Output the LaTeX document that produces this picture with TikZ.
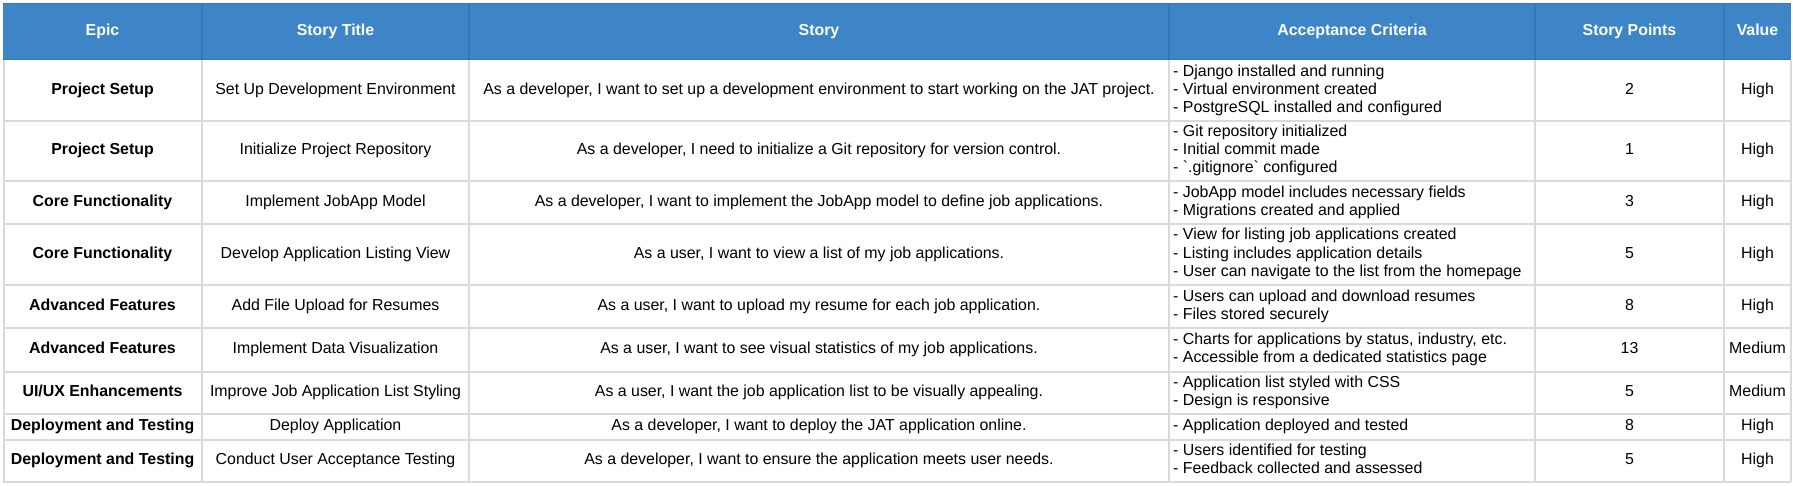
\documentclass[tikz,border=0pt]{standalone}
\usepackage{fontspec}
\setmainfont{Liberation Sans}
\newcommand\cellfnt{\fontsize{15.9}{18.2}\selectfont}
\definecolor{hdrblue}{RGB}{61,133,198}
\definecolor{hdrline}{RGB}{54,118,178}
\definecolor{gridgray}{RGB}{218,218,218}
\tikzset{
  cell/.style={inner sep=0pt, font=\cellfnt, text=black},
  epiccell/.style={cell, font=\cellfnt\bfseries},
  hdrcell/.style={inner sep=0pt, font=\cellfnt\bfseries, text=white},
  accell/.style={cell, anchor=west, align=left},
  gridline/.style={draw=gridgray, line width=1.3pt},
  hdrsep/.style={draw=hdrline, line width=1.1pt}
}
\begin{document}
\begin{tikzpicture}[x=1pt,y=-1pt]
\useasboundingbox (0,0) rectangle (1793,485);
\fill[white] (0,0) rectangle (1793,485);
% header background
\fill[hdrblue] (3,3) rectangle (1791,60);
% grid lines
\foreach \yy in {121,181,224,285,328,372,414,440,482}
  \draw[gridline] (3,\yy) -- (1791,\yy);
\foreach \xx in {4,202,469,1169,1535,1724,1791}
  \draw[gridline] (\xx,60) -- (\xx,482);
% header borders
\draw[hdrsep] (3,3.5) -- (1791,3.5);
\draw[hdrsep] (3,59.5) -- (1791,59.5);
\foreach \xx in {202,469,1169,1535,1724}
  \draw[hdrsep] (\xx,3) -- (\xx,60);

% header
\node[hdrcell] (hE) at (102.5,31.5) {\strut Epic};
\node[hdrcell] (hT) at (335.5,31.5) {\strut Story Title};
\node[hdrcell] (hS) at (819,31.5) {\strut Story};
\node[hdrcell] (hA) at (1352,31.5) {\strut Acceptance Criteria};
\node[hdrcell] (hP) at (1629.5,31.5) {\strut Story Points};
\node[hdrcell] (hV) at (1757.5,31.5) {\strut Value};

% row 1
\node[epiccell] (e1) at (102.5,91) {\strut Project Setup};
\node[cell] (t1) at (335.5,91) {\strut Set Up Development Environment};
\node[cell] (s1) at (819,91) {\strut As a developer, I want to set up a development environment to start working on the JAT project.};
\node[accell] (a1) at (1173,91) {\strut - Django installed and running\\\strut - Virtual environment created\\\strut - PostgreSQL installed and configured};
\node[cell] (p1) at (1629.5,91) {\strut 2};
\node[cell] (v1) at (1757.5,91) {\strut High};

% row 2
\node[epiccell] (e2) at (102.5,151) {\strut Project Setup};
\node[cell] (t2) at (335.5,151) {\strut Initialize Project Repository};
\node[cell] (s2) at (819,151) {\strut As a developer, I need to initialize a Git repository for version control.};
\node[accell] (a2) at (1173,151) {\strut - Git repository initialized\\\strut - Initial commit made\\\strut - \textasciigrave.gitignore\textasciigrave{} configured};
\node[cell] (p2) at (1629.5,151) {\strut 1};
\node[cell] (v2) at (1757.5,151) {\strut High};

% row 3
\node[epiccell] (e3) at (102.5,202.5) {\strut Core Functionality};
\node[cell] (t3) at (335.5,202.5) {\strut Implement JobApp Model};
\node[cell] (s3) at (819,202.5) {\strut As a developer, I want to implement the JobApp model to define job applications.};
\node[accell] (a3) at (1173,202.5) {\strut - JobApp model includes necessary fields\\\strut - Migrations created and applied};
\node[cell] (p3) at (1629.5,202.5) {\strut 3};
\node[cell] (v3) at (1757.5,202.5) {\strut High};

% row 4
\node[epiccell] (e4) at (102.5,254.5) {\strut Core Functionality};
\node[cell] (t4) at (335.5,254.5) {\strut Develop Application Listing View};
\node[cell] (s4) at (819,254.5) {\strut As a user, I want to view a list of my job applications.};
\node[accell] (a4) at (1173,254.5) {\strut - View for listing job applications created\\\strut - Listing includes application details\\\strut - User can navigate to the list from the homepage};
\node[cell] (p4) at (1629.5,254.5) {\strut 5};
\node[cell] (v4) at (1757.5,254.5) {\strut High};

% row 5
\node[epiccell] (e5) at (102.5,306.5) {\strut Advanced Features};
\node[cell] (t5) at (335.5,306.5) {\strut Add File Upload for Resumes};
\node[cell] (s5) at (819,306.5) {\strut As a user, I want to upload my resume for each job application.};
\node[accell] (a5) at (1173,306.5) {\strut - Users can upload and download resumes\\\strut - Files stored securely};
\node[cell] (p5) at (1629.5,306.5) {\strut 8};
\node[cell] (v5) at (1757.5,306.5) {\strut High};

% row 6
\node[epiccell] (e6) at (102.5,350) {\strut Advanced Features};
\node[cell] (t6) at (335.5,350) {\strut Implement Data Visualization};
\node[cell] (s6) at (819,350) {\strut As a user, I want to see visual statistics of my job applications.};
\node[accell] (a6) at (1173,350) {\strut - Charts for applications by status, industry, etc.\\\strut - Accessible from a dedicated statistics page};
\node[cell] (p6) at (1629.5,350) {\strut 13};
\node[cell] (v6) at (1757.5,350) {\strut Medium};

% row 7
\node[epiccell] (e7) at (102.5,393) {\strut UI/UX Enhancements};
\node[cell] (t7) at (335.5,393) {\strut Improve Job Application List Styling};
\node[cell] (s7) at (819,393) {\strut As a user, I want the job application list to be visually appealing.};
\node[accell] (a7) at (1173,393) {\strut - Application list styled with CSS\\\strut - Design is responsive};
\node[cell] (p7) at (1629.5,393) {\strut 5};
\node[cell] (v7) at (1757.5,393) {\strut Medium};

% row 8
\node[epiccell] (e8) at (102.5,427) {\strut Deployment and Testing};
\node[cell] (t8) at (335.5,427) {\strut Deploy Application};
\node[cell] (s8) at (819,427) {\strut As a developer, I want to deploy the JAT application online.};
\node[accell] (a8) at (1173,427) {\strut - Application deployed and tested};
\node[cell] (p8) at (1629.5,427) {\strut 8};
\node[cell] (v8) at (1757.5,427) {\strut High};

% row 9
\node[epiccell] (e9) at (102.5,461) {\strut Deployment and Testing};
\node[cell] (t9) at (335.5,461) {\strut Conduct User Acceptance Testing};
\node[cell] (s9) at (819,461) {\strut As a developer, I want to ensure the application meets user needs.};
\node[accell] (a9) at (1173,461) {\strut - Users identified for testing\\\strut - Feedback collected and assessed};
\node[cell] (p9) at (1629.5,461) {\strut 5};
\node[cell] (v9) at (1757.5,461) {\strut High};
\end{tikzpicture}
\end{document}
